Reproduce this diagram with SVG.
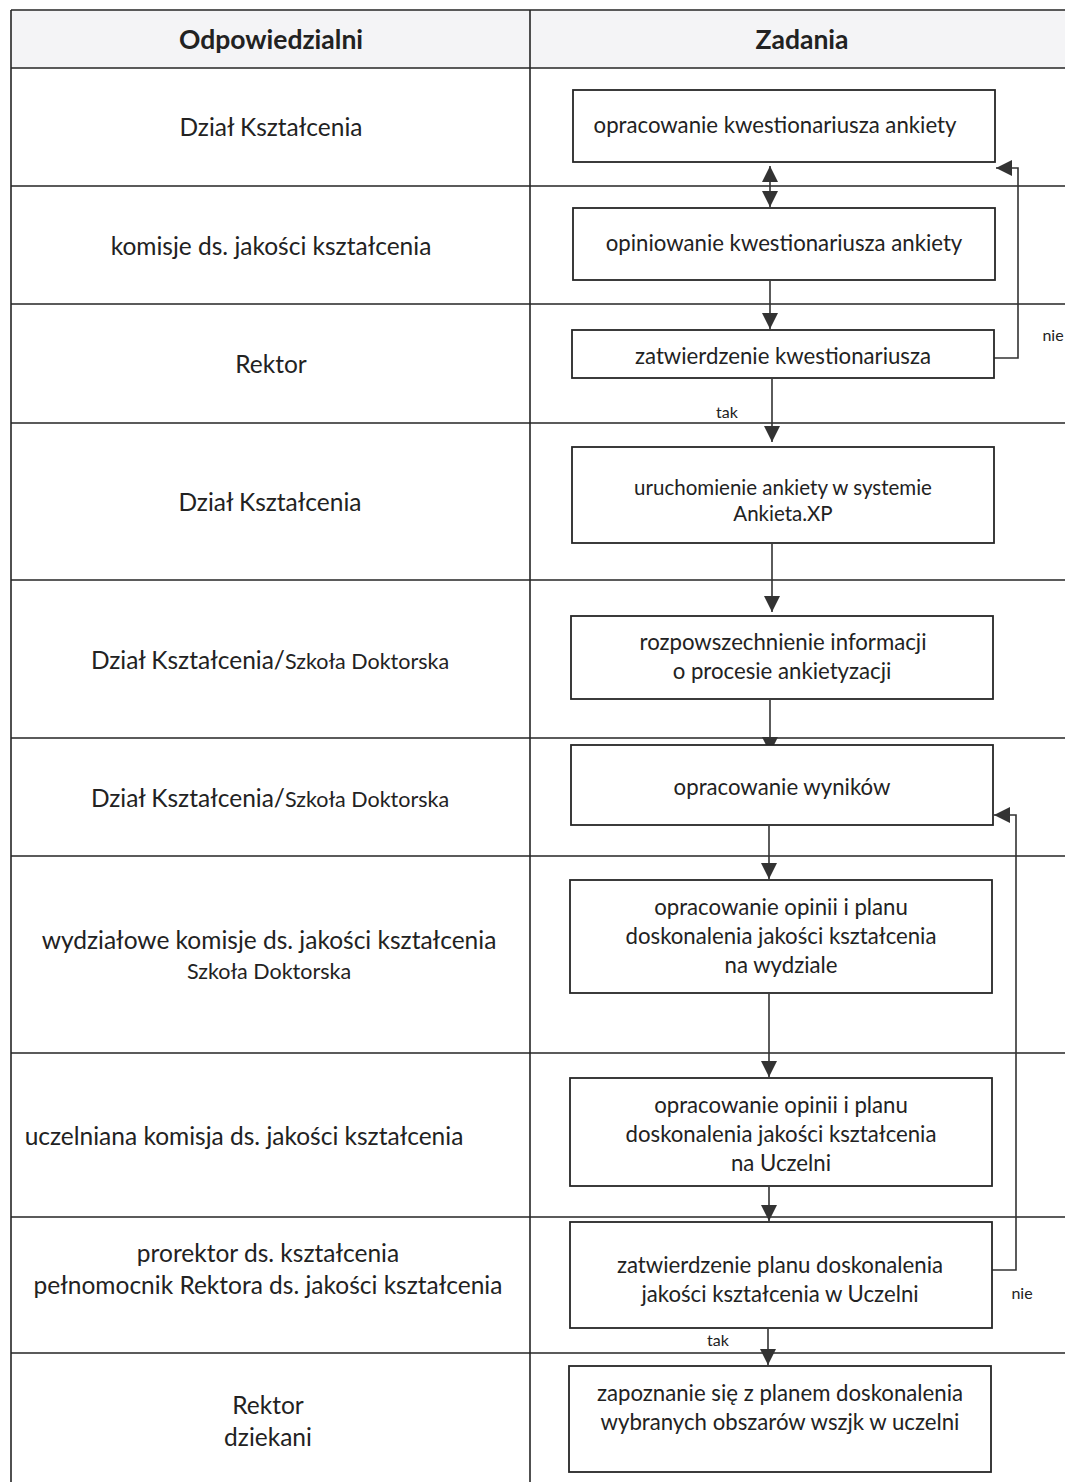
<svg xmlns="http://www.w3.org/2000/svg" width="1065" height="1482" viewBox="0 0 1065 1482">
<style>
.grid{stroke:#262626;stroke-width:1.6;fill:none}
.box{fill:#fff;stroke:#262626;stroke-width:1.8}
.con{stroke:#333;stroke-width:1.6;fill:none}
text{font-family:Lato,"Open Sans","Liberation Sans",sans-serif;fill:#222;text-anchor:middle}
.hd{font-size:26.5px;font-weight:bold}
.lt{font-size:24.5px}
.ls{font-size:21.5px}
.bt{font-size:22.2px}
.bs{font-size:20.5px}
.sm{font-size:16px}
</style>
<defs>
<marker id="ah" viewBox="0 0 16 16" refX="16" refY="8" markerWidth="16" markerHeight="16" markerUnits="userSpaceOnUse" orient="auto-start-reverse">
<path d="M0,0 L16,8 L0,16 z" fill="#333"/>
</marker>
</defs>
<rect width="1065" height="1482" fill="#fff"/>
<g id="table">
<rect x="11" y="10" width="1054" height="58" fill="#f4f4f6"/>
<path class="grid" d="M11,10 H1065 M11,68 H1065 M11,186 H1065 M11,304 H1065 M11,423 H1065 M11,580 H1065 M11,738 H1065 M11,856 H1065 M11,1053 H1065 M11,1217 H1065 M11,1353 H1065 M11,10 V1482 M530,10 V1482"/>
<text class="hd" x="271" y="49">Odpowiedzialni</text>
<text class="hd" x="802" y="49">Zadania</text>
</g>
<g id="resp">
<text class="lt" x="271" y="136">Dział Kształcenia</text>
<text class="lt" x="271" y="255">komisje ds. jakości kształcenia</text>
<text class="lt" x="271" y="373">Rektor</text>
<text class="lt" x="270" y="511">Dział Kształcenia</text>
<text class="lt" x="270" y="669">Dział Kształcenia/<tspan class="ls">Szkoła Doktorska</tspan></text>
<text class="lt" x="270" y="807">Dział Kształcenia/<tspan class="ls">Szkoła Doktorska</tspan></text>
<text class="lt" x="269" y="949">wydziałowe komisje ds. jakości kształcenia</text>
<text class="ls" x="269" y="979">Szkoła Doktorska</text>
<text class="lt" x="244" y="1145">uczelniana komisja ds. jakości kształcenia</text>
<text class="lt" x="268" y="1262">prorektor ds. kształcenia</text>
<text class="lt" x="268" y="1294">pełnomocnik Rektora ds. jakości kształcenia</text>
<text class="lt" x="268" y="1414">Rektor</text>
<text class="lt" x="268" y="1446">dziekani</text>
</g>
<g id="connectors">
<line class="con" x1="770" y1="166" x2="770" y2="207" marker-start="url(#ah)" marker-end="url(#ah)"/>
<line class="con" x1="770" y1="281" x2="770" y2="329" marker-end="url(#ah)"/>
<line class="con" x1="772" y1="379" x2="772" y2="442" marker-end="url(#ah)"/>
<line class="con" x1="772" y1="544" x2="772" y2="612" marker-end="url(#ah)"/>
<line class="con" x1="770" y1="700" x2="770" y2="753" marker-end="url(#ah)"/>
<line class="con" x1="769" y1="826" x2="769" y2="879" marker-end="url(#ah)"/>
<line class="con" x1="769" y1="994" x2="769" y2="1077" marker-end="url(#ah)"/>
<line class="con" x1="769" y1="1187" x2="769" y2="1221" marker-end="url(#ah)"/>
<line class="con" x1="768" y1="1329" x2="768" y2="1365" marker-end="url(#ah)"/>
<polyline class="con" points="994,358 1018,358 1018,168 996,168" marker-end="url(#ah)"/>
<polyline class="con" points="992,1270 1016,1270 1016,815 994,815" marker-end="url(#ah)"/>
<text class="sm" x="727" y="418">tak</text>
<text class="sm" x="1053" y="341">nie</text>
<text class="sm" x="718" y="1346">tak</text>
<text class="sm" x="1022" y="1299">nie</text>
</g>
<g id="n1"><rect class="box" x="573" y="90" width="422" height="72"/><text class="bt" x="775" y="133">opracowanie kwestionariusza ankiety</text></g>
<g id="n2"><rect class="box" x="573" y="208" width="422" height="72"/><text class="bt" x="784" y="251">opiniowanie kwestionariusza ankiety</text></g>
<g id="n3"><rect class="box" x="572" y="330" width="422" height="48"/><text class="bt" x="783" y="364">zatwierdzenie kwestionariusza</text></g>
<g id="n4"><rect class="box" x="572" y="447" width="422" height="96"/><text class="bs" x="783" y="495">uruchomienie ankiety w systemie</text><text class="bs" x="783" y="521">Ankieta.XP</text></g>
<g id="n5"><rect class="box" x="571" y="616" width="422" height="83"/><text class="bt" x="783" y="650">rozpowszechnienie informacji</text><text class="bt" x="782" y="679">o procesie ankietyzacji</text></g>
<g id="n6"><rect class="box" x="571" y="745" width="422" height="80"/><text class="bt" x="782" y="795">opracowanie wyników</text></g>
<g id="n7"><rect class="box" x="570" y="880" width="422" height="113"/><text class="bt" x="781" y="915">opracowanie opinii i planu</text><text class="bt" x="781" y="944">doskonalenia jakości kształcenia</text><text class="bt" x="781" y="973">na wydziale</text></g>
<g id="n8"><rect class="box" x="570" y="1078" width="422" height="108"/><text class="bt" x="781" y="1113">opracowanie opinii i planu</text><text class="bt" x="781" y="1142">doskonalenia jakości kształcenia</text><text class="bt" x="781" y="1171">na Uczelni</text></g>
<g id="n9"><rect class="box" x="570" y="1222" width="422" height="106"/><text class="bt" x="780" y="1273">zatwierdzenie planu doskonalenia</text><text class="bt" x="780" y="1302">jakości kształcenia w Uczelni</text></g>
<g id="n10"><rect class="box" x="569" y="1366" width="422" height="106"/><text class="bt" x="780" y="1401">zapoznanie się z planem doskonalenia</text><text class="bt" x="780" y="1430">wybranych obszarów wszjk w uczelni</text></g>
</svg>
